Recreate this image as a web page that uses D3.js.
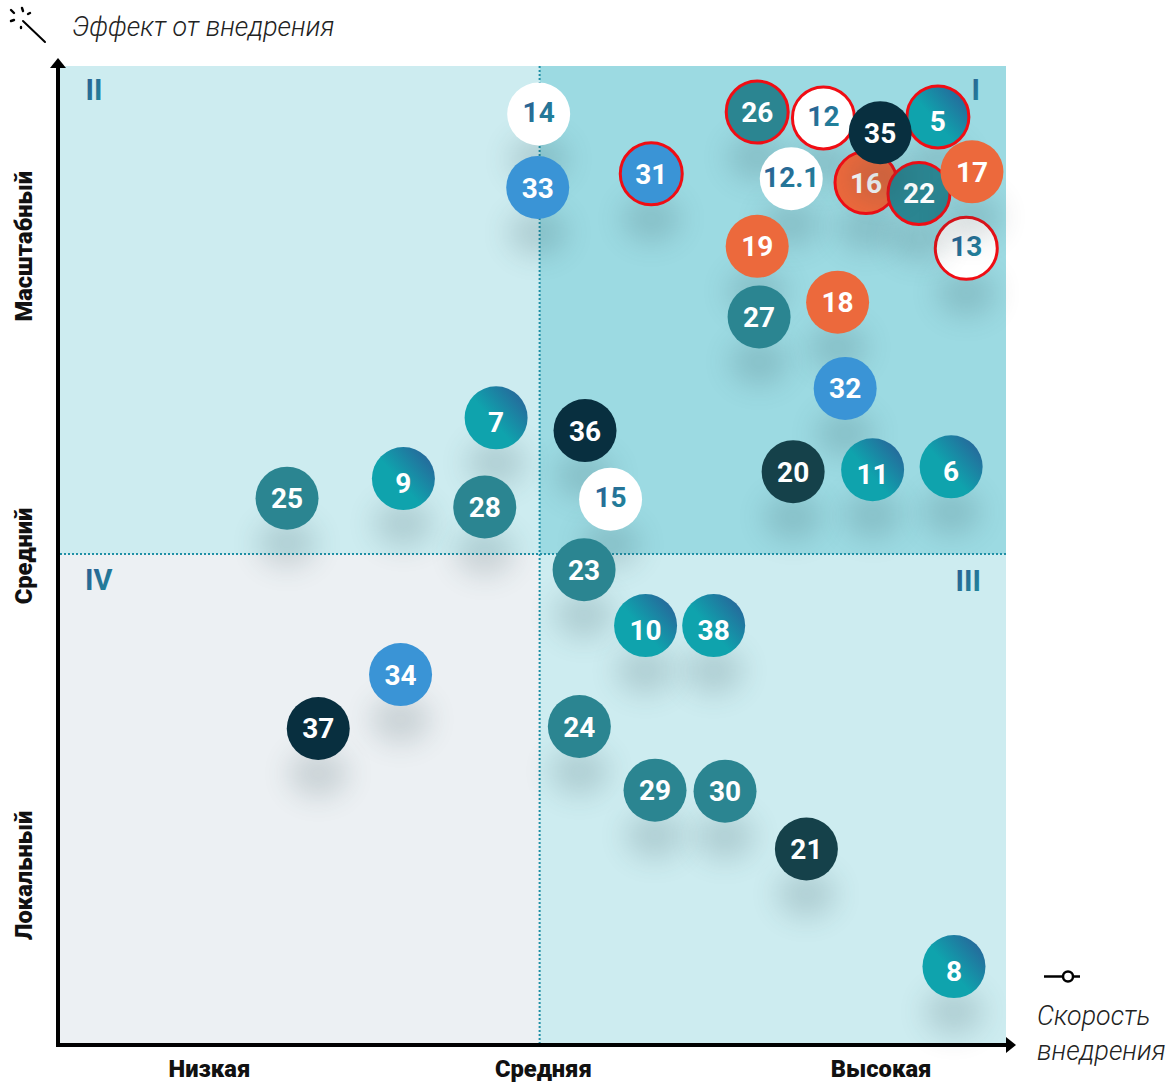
<!doctype html>
<html>
<head>
<meta charset="utf-8">
<style>
    html, body { margin: 0; padding: 0; background: #fff; }
    svg { display: block; font-family: Roboto, sans-serif; }
    .num { font-size: 28px; font-weight: 700; text-anchor: middle; }
    .tick-label { font-size: 23.7px; font-weight: 900; fill: #111; text-anchor: middle; }
    .note { font-size: 26.8px; font-weight: 300; font-style: italic; fill: #222; }
    .roman { font-size: 29px; font-weight: 700; text-anchor: middle; }
</style>
<script src="https://d3js.org/d3.v7.min.js"></script>
</head>
<body>
<svg id="chart" width="1170" height="1082"></svg>
<script>
    // drawn in this order, later ones sit on top
    var labels = ["5","26","12","13","16","22","17","35","14","33","31","12.1","19","18","27","32","7","36","20","11","6","25","9","28","15","23","10","38","34","37","24","29","30","21","8"];
    var speed  = [92.8,73.7,80.7,95.8,85.2,90.8,96.4,86.7,50.6,50.5,62.5,77.3,73.7,82.2,73.9,83.0,46.1,55.5,77.5,85.9,94.2,24.0,36.3,44.9,58.2,55.4,61.9,69.1,36.0,27.3,54.9,62.9,70.3,78.9,94.5];
    var effect = [94.8,95.3,94.7,81.4,88.1,87.0,89.2,93.2,95.1,87.6,89.0,88.5,81.6,75.9,74.4,67.1,64.1,62.8,58.6,58.8,59.1,55.9,57.9,55.0,55.8,48.6,42.9,42.9,37.9,32.4,32.6,26.1,26.0,20.1,8.1];
    var kinds  = ["grad","teal","white","white","orange","teal","orange","dark","white","blue","blue","white","orange","orange","teal","blue","grad","dark","pine","grad","grad","teal","grad","teal","white","teal","grad","grad","blue","dark","teal","teal","teal","pine","grad"];
    var ringed = ["5","26","12","13","16","22","31"];

    var xLabels = ["Низкая","Средняя","Высокая"];
    var xLabelPos = [15.8,51.1,86.8];
    var yLabels = ["Масштабный","Средний","Локальный"];
    var yLabelPos = [81.6,50,17.4];
    var romans = ["I","II","III","IV"];
    var romanX = [96.8,3.6,96.0,4.1];
    var romanY = [97.6,97.6,47.5,47.6];
    var midX = 50.7, midY = 50.2;

    var colors = { teal: "#2b8591", dark: "#082f3f", pine: "#15414a", orange: "#ec693c", blue: "#3a94d6", white: "#fff", grad: "url(#ballGrad)" };
    var textShift = { grad: 14, white: 8, teal: 10, dark: 10, pine: 10, orange: 10, blue: 10 };

    var svg = d3.select("#chart"),
        left = 60, right = 1006, top_ = 66, bottom = 1046,
        r = 31.5;

    var x = d3.scaleLinear().domain([0, 100]).range([left, right]),
        y = d3.scaleLinear().domain([0, 100]).range([bottom, top_]);

    var defs = svg.append("defs");

    var ballGrad = defs.append("linearGradient").attr("id", "ballGrad")
        .attr("x1", 0.2).attr("y1", 0.8).attr("x2", 0.95).attr("y2", 0.15);
    ballGrad.append("stop").attr("offset", "0.35").attr("stop-color", "#0fa3ad");
    ballGrad.append("stop").attr("offset", "1").attr("stop-color", "#27669a");

    var textGrad = defs.append("linearGradient").attr("id", "textGrad")
        .attr("x1", 0).attr("y1", 0).attr("x2", 1).attr("y2", 1);
    textGrad.append("stop").attr("offset", "0").attr("stop-color", "#2c5a92");
    textGrad.append("stop").attr("offset", "1").attr("stop-color", "#1f8a9c");

    defs.append("filter").attr("id", "blur")
        .attr("x", "-80%").attr("y", "-80%").attr("width", "260%").attr("height", "260%")
        .append("feGaussianBlur").attr("stdDeviation", 14);

    // quadrants
    var quads = [[0, midX, midY, 100, "#cdecf0"], [midX, 100, midY, 100, "#9cdae2"], [0, midX, 0, midY, "#ecf0f3"], [midX, 100, 0, midY, "#cdecf0"]];
    svg.selectAll(".quad").data(quads).enter().append("rect")
        .attr("class", "quad")
        .attr("x", function(d) { return x(d[0]); })
        .attr("y", function(d) { return y(d[3]); })
        .attr("width", function(d) { return x(d[1]) - x(d[0]); })
        .attr("height", function(d) { return y(d[2]) - y(d[3]); })
        .attr("fill", function(d) { return d[4]; });

    // dotted dividers
    svg.append("line").attr("x1", x(midX)).attr("x2", x(midX)).attr("y1", y(100)).attr("y2", y(0))
        .attr("stroke", "#1f8fa5").attr("stroke-width", 2).attr("stroke-dasharray", "2 2");
    svg.append("line").attr("x1", x(0)).attr("x2", 1008).attr("y1", y(midY)).attr("y2", y(midY))
        .attr("stroke", "#1f8fa5").attr("stroke-width", 2).attr("stroke-dasharray", "2 2");

    romans.forEach(function(t, i) {
        svg.append("text").attr("class", "roman")
           .attr("x", x(romanX[i])).attr("y", y(romanY[i]) + 10)
           .attr("fill", "url(#textGrad)").text(t);
    });

    // axes
    svg.append("line").attr("x1", 58).attr("x2", 58).attr("y1", 1047).attr("y2", 66)
        .attr("stroke", "#000").attr("stroke-width", 4);
    svg.append("line").attr("x1", 56).attr("x2", 1006).attr("y1", 1045).attr("y2", 1045)
        .attr("stroke", "#000").attr("stroke-width", 4);
    svg.append("path").attr("d", "M50,68L58,58L66,68Z").attr("fill", "#000");
    svg.append("path").attr("d", "M1006,1037L1016,1045L1006,1053Z").attr("fill", "#000");

    xLabels.forEach(function(t, i) {
        svg.append("text").attr("class", "tick-label")
           .attr("x", x(xLabelPos[i])).attr("y", 1077).text(t);
    });
    yLabels.forEach(function(t, i) {
        svg.append("text").attr("class", "tick-label")
           .attr("transform", "translate(32," + y(yLabelPos[i]) + ") rotate(-90)").text(t);
    });

    // balls
    var balls = svg.selectAll(".ball").data(labels).enter().append("g")
        .attr("class", "ball")
        .attr("transform", function(d, i) { return "translate(" + x(speed[i]) + "," + y(effect[i]) + ")"; });

    balls.append("ellipse")
        .attr("cx", 0).attr("cy", 45).attr("rx", 30).attr("ry", 24)
        .attr("fill", "#24424a").attr("opacity", 0.17)
        .attr("filter", "url(#blur)");

    balls.append("circle")
        .attr("r", function(d) { return ringed.indexOf(d) >= 0 ? 31 : r; })
        .attr("fill", function(d, i) { return colors[kinds[i]]; })
        .attr("stroke", function(d) { return ringed.indexOf(d) >= 0 ? "#f00d14" : "none"; })
        .attr("stroke-width", 3);

    balls.append("text").attr("class", "num")
        .attr("y", function(d, i) { return textShift[kinds[i]]; })
        .attr("fill", function(d, i) { return kinds[i] == "white" ? "url(#textGrad)" : "#fff"; })
        .text(function(d) { return d; });

    // titles
    svg.append("text").attr("class", "note").attr("x", 72).attr("y", 36).text("Эффект от внедрения");
    svg.append("text").attr("class", "note").attr("x", 1037).attr("y", 1025).text("Скорость");
    svg.append("text").attr("class", "note").attr("x", 1037).attr("y", 1060).text("внедрения");

    // wand icon
    var wand = svg.append("g").attr("stroke", "#000").attr("fill", "none").attr("stroke-linecap", "round");
    wand.append("line").attr("x1", 23).attr("y1", 21).attr("x2", 45).attr("y2", 42).attr("stroke-width", 2);
    wand.append("path").attr("stroke-width", 2.4)
        .attr("d", "M22,8L23,11M11,10L14,13M30,13L28,14M11,21L14,20M21,27L21,28");

    // little slider icon
    svg.append("line").attr("x1", 1044).attr("x2", 1080).attr("y1", 976.5).attr("y2", 976.5)
        .attr("stroke", "#000").attr("stroke-width", 2.5);
    svg.append("circle").attr("cx", 1068).attr("cy", 976.5).attr("r", 5)
        .attr("fill", "#fff").attr("stroke", "#000").attr("stroke-width", 2.5);
</script>
</body>
</html>
